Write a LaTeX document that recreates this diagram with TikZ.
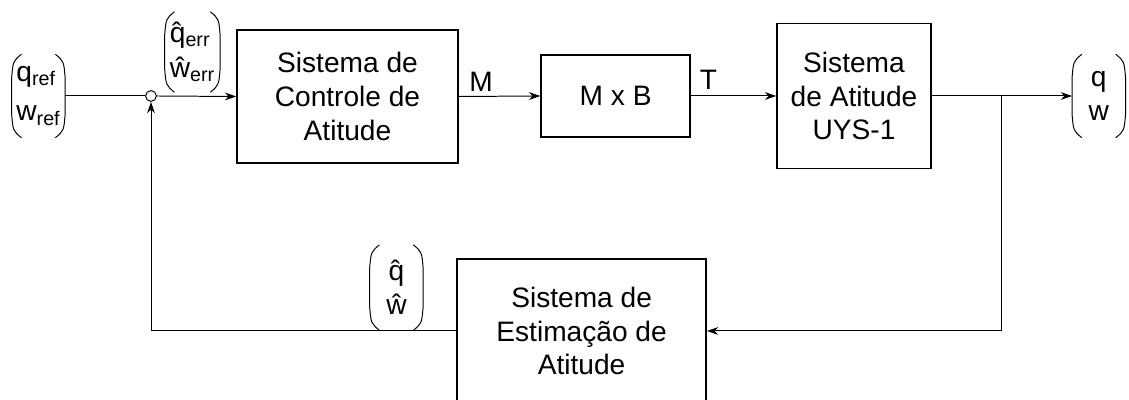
\documentclass[tikz,border=0pt]{standalone}
\usepackage{amsmath}
\usepackage{fontspec}
\setmainfont{Liberation Sans}
\usetikzlibrary{arrows.meta,positioning}

% parenteses finos em volta de um no de vetor
\newcommand{\parenteses}[1]{%
  \draw[linha] ([xshift=7pt]#1.north west) .. controls ([xshift=1pt,yshift=-5pt]#1.north west)
    .. ([yshift=-17pt]#1.north west) -- ([yshift=17pt]#1.south west)
    .. controls ([xshift=1pt,yshift=5pt]#1.south west) .. ([xshift=7pt]#1.south west);
  \draw[linha] ([xshift=-7pt]#1.north east) .. controls ([xshift=-1pt,yshift=-5pt]#1.north east)
    .. ([yshift=-17pt]#1.north east) -- ([yshift=17pt]#1.south east)
    .. controls ([xshift=-1pt,yshift=5pt]#1.south east) .. ([xshift=-7pt]#1.south east);}

\begin{document}
\begin{tikzpicture}[
  bloco/.style={rectangle,draw=black,line width=1.1pt,align=center,inner sep=0pt,
                font=\fontsize{20}{24}\selectfont},
  sinal/.style={-{Stealth[length=8pt,width=5.5pt,inset=2.5pt]},line width=0.7pt},
  linha/.style={line width=0.7pt},
  vetor/.style={rectangle,inner sep=0pt,align=left,font=\fontsize{20}{25}\selectfont},
  rot/.style={inner sep=0pt,font=\fontsize{20}{24}\selectfont}
]
\useasboundingbox (0,0) rectangle (28.225,10);
% blocos do laco
\node[bloco,minimum width=5.525cm,minimum height=3.325cm] (ctrl) at (8.6875,7.5875)
  {Sistema de\\Controle de\\Atitude};
\node[bloco,minimum width=3.725cm,minimum height=2.05cm] (mxb) at (15.39,7.6) {M x B};
\node[bloco,minimum width=3.85cm,minimum height=3.625cm] (sat) at (21.35,7.6)
  {Sistema\\de Atitude\\UYS-1};
\node[bloco,minimum width=6.225cm,minimum height=3.6cm] (est) at (14.54,1.725)
  {Sistema de\\Estima\c{c}\~ao de\\Atitude};
\node[circle,draw,line width=0.7pt,minimum size=0.27cm,inner sep=0pt] (soma) at (3.775,7.6) {};
\coordinate (ramo) at (25.025,7.6);
% vetores de estado
\node[vetor,minimum width=1.325cm,minimum height=2.075cm,font=\fontsize{20}{28}\selectfont] (ref) at (0.96,7.6)
  {q$_{\text{ref}}$\\w$_{\text{ref}}$};
\node[vetor,align=center,minimum width=1.325cm,minimum height=2.075cm,font=\fontsize{20}{24}\selectfont] (saida) at (27.47,7.6)
  {q\\w};
\node[vetor,minimum width=1.375cm,minimum height=2.0cm] (erro) at (4.81,8.7)
  {\^q$_{\text{err}}$\\\^w$_{\text{err}}$};
\node[vetor,align=center,minimum width=1.325cm,minimum height=2.125cm,font=\fontsize{20}{24}\selectfont] (estim) at (9.91,2.81)
  {\^q\\\^w};
\parenteses{ref}
\parenteses{saida}
\parenteses{erro}
\parenteses{estim}
\node[rot] (lm) at (12.03,7.95) {M};
\node[rot] (lt) at (17.71,8.0) {T};
% ligacoes
\draw[linha] (ref.east) -- (soma.west);
\draw[sinal] (soma.east) -- (ctrl.west);
\draw[sinal] (ctrl.east) -- (mxb.west);
\draw[sinal] (mxb.east) -- (sat.west);
\draw[sinal] (sat.east) -- (saida.west);
\draw[sinal] (ramo) |- (est.east);
\draw[sinal] (est.west) -| (soma.south);
\end{tikzpicture}
\end{document}
